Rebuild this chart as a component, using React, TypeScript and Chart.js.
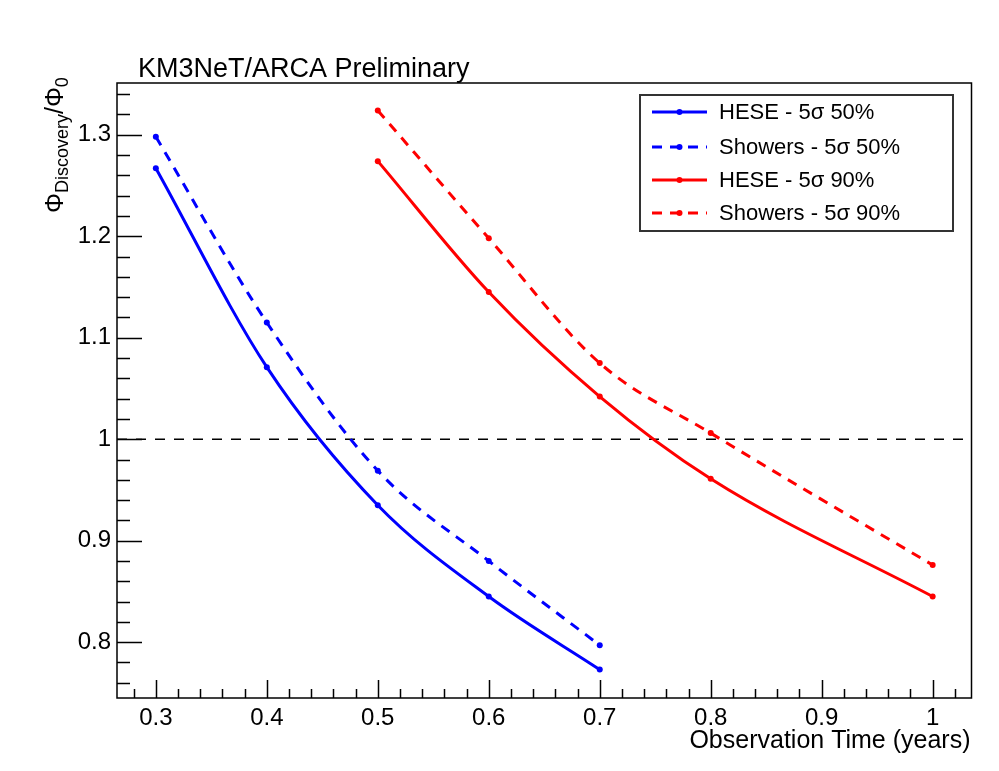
import React, { useEffect, useRef } from "react";
import { Chart, registerables } from "chart.js";

Chart.register(...registerables);

const x50 = [0.3, 0.4, 0.5, 0.6, 0.7];
const hese50 = [1.267, 1.071, 0.935, 0.845, 0.773];
const showers50 = [1.298, 1.115, 0.969, 0.88, 0.797];

const x90 = [0.5, 0.6, 0.7, 0.8, 1.0];
const hese90 = [1.274, 1.145, 1.042, 0.961, 0.845];
const showers90 = [1.324, 1.198, 1.075, 1.006, 0.876];

const refX = [0.265, 1.035];
const refY = [1, 1];

const xTicks = [0.3, 0.4, 0.5, 0.6, 0.7, 0.8, 0.9, 1.0];
const yTicks = [0.8, 0.9, 1.0, 1.1, 1.2, 1.3];

const labels = [
  "HESE - 5\u03c3 50%",
  "Showers - 5\u03c3 50%",
  "HESE - 5\u03c3 90%",
  "Showers - 5\u03c3 90%",
];

const FONT = "'Liberation Sans', Arial, Helvetica, sans-serif";
const BLUE = "#0000ff";
const RED = "#ff0000";
const DASH = [10, 8];

const toPts = (xs: number[], ys: number[]) => xs.map((x, i) => ({ x, y: ys[i] }));
const fmt = (v: number) => (Math.abs(v - 1) < 1e-9 ? "1" : v.toFixed(1));

const rootPlugin = {
  id: "rootStyle",
  beforeDatasetsDraw(chart: any) {
    const { ctx, chartArea: a, scales } = chart;
    const xs = scales.x;
    const ys = scales.y;
    ctx.save();
    ctx.strokeStyle = "#000";
    ctx.lineWidth = 1.5;
    ctx.strokeRect(a.left, a.top, a.right - a.left, a.bottom - a.top);
    ctx.beginPath();
    for (let i = 28; i <= 102; i += 2) {
      const v = i / 100;
      const px = Math.round(xs.getPixelForValue(v)) + 0.5;
      const len = i % 10 === 0 ? 18 : 9;
      ctx.moveTo(px, a.bottom);
      ctx.lineTo(px, a.bottom - len);
    }
    for (let i = 76; i <= 134; i += 2) {
      const v = i / 100;
      const py = Math.round(ys.getPixelForValue(v)) + 0.5;
      const len = i % 10 === 0 ? 25 : 13;
      ctx.moveTo(a.left, py);
      ctx.lineTo(a.left + len, py);
    }
    ctx.stroke();
    ctx.restore();
  },
  afterDraw(chart: any) {
    const { ctx, chartArea: a } = chart;
    ctx.save();
    ctx.fillStyle = "#000";
    // Title
    ctx.font = `27px ${FONT}`;
    ctx.textAlign = "left";
    ctx.textBaseline = "alphabetic";
    ctx.fillText("KM3NeT/ARCA Preliminary", 138, 77);
    // X title
    ctx.font = `25px ${FONT}`;
    ctx.textAlign = "right";
    ctx.fillText("Observation Time (years)", a.right - 1, 748);
    // Y title rotated
    ctx.translate(63, 213);
    ctx.rotate(-Math.PI / 2);
    ctx.textAlign = "left";
    let cx = 0;
    const seg = (t: string, size: number, dy: number) => {
      ctx.font = `${size}px ${FONT}`;
      ctx.fillText(t, cx, dy);
      cx += ctx.measureText(t).width;
    };
    seg("\u03a6", 25, 0);
    seg("Discovery", 18, 5);
    seg("/", 25, 0);
    seg("\u03a6", 25, 0);
    seg("0", 18, 5);
    ctx.restore();

    // Legend
    ctx.save();
    const lx = 640, ly = 95, lw = 313, lh = 136;
    ctx.fillStyle = "#fff";
    ctx.fillRect(lx, ly, lw, lh);
    ctx.strokeStyle = "#333";
    ctx.lineWidth = 2;
    ctx.strokeRect(lx, ly, lw, lh);
    const rows = [112, 147, 180, 213];
    const ds = chart.data.datasets.slice(0, 4);
    ds.forEach((d: any, i: number) => {
      const y = rows[i];
      ctx.strokeStyle = d.borderColor;
      ctx.lineWidth = 3;
      ctx.setLineDash(d.borderDash || []);
      ctx.beginPath();
      ctx.moveTo(652, y);
      ctx.lineTo(707, y);
      ctx.stroke();
      ctx.setLineDash([]);
      ctx.fillStyle = d.borderColor;
      ctx.beginPath();
      ctx.arc(679.5, y, 3, 0, Math.PI * 2);
      ctx.fill();
      ctx.fillStyle = "#000";
      ctx.font = `22px ${FONT}`;
      ctx.textAlign = "left";
      ctx.textBaseline = "middle";
      ctx.fillText(d.label, 719, y + 1);
    });
    ctx.restore();
  },
};

export default function App() {
  const ref = useRef<HTMLCanvasElement>(null);
  useEffect(() => {
    if (!ref.current) return;
    const mk = (label: string, xs: number[], ys: number[], color: string, dash: number[]) => ({
      label,
      data: toPts(xs, ys),
      borderColor: color,
      backgroundColor: color,
      borderWidth: 3,
      borderDash: dash,
      pointRadius: 3,
      pointBorderWidth: 0,
      pointBackgroundColor: color,
      cubicInterpolationMode: "monotone" as const,
      showLine: true,
      fill: false,
    });
    const chart = new Chart(ref.current, {
      type: "line",
      data: {
        datasets: [
          mk(labels[0], x50, hese50, BLUE, []),
          mk(labels[1], x50, showers50, BLUE, DASH),
          mk(labels[2], x90, hese90, RED, []),
          mk(labels[3], x90, showers90, RED, DASH),
          {
            label: "ref",
            data: toPts(refX, refY),
            borderColor: "#000",
            borderWidth: 1.5,
            borderDash: [10, 9],
            pointRadius: 0,
            showLine: true,
            fill: false,
          } as any,
        ],
      },
      options: {
        animation: false,
        responsive: false,
        maintainAspectRatio: false,
        layout: { padding: { left: 0, top: 83, right: 27.5, bottom: 0 } },
        plugins: {
          legend: { display: false },
          tooltip: { enabled: false },
          title: { display: false },
        },
        scales: {
          x: {
            type: "linear",
            min: 0.265,
            max: 1.035,
            afterBuildTicks: (s: any) => {
              s.ticks = xTicks.map((v) => ({ value: v }));
            },
            afterFit: (s: any) => {
              s.height = 771 - 698;
            },
            grid: { display: false, drawTicks: false },
            border: { display: false },
            ticks: {
              autoSkip: false,
              maxRotation: 0,
              padding: 6,
              color: "#000",
              font: { family: FONT, size: 24 },
              callback: (v: any) => fmt(Number(v)),
            },
          },
          y: {
            type: "linear",
            min: 0.745,
            max: 1.351,
            afterBuildTicks: (s: any) => {
              s.ticks = yTicks.map((v) => ({ value: v }));
            },
            afterFit: (s: any) => {
              s.width = 117;
            },
            grid: { display: false, drawTicks: false },
            border: { display: false },
            ticks: {
              autoSkip: false,
              padding: 6,
              color: "#000",
              font: { family: FONT, size: 24 },
              callback: (v: any) => fmt(Number(v)),
            },
          },
        },
      },
      plugins: [rootPlugin],
    });
    return () => chart.destroy();
  }, []);
  return (
    <div style={{ position: "absolute", left: 0, top: 0, width: 999, height: 771, background: "#fff" }}>
      <canvas ref={ref} width={999} height={771} style={{ width: 999, height: 771 }} />
    </div>
  );
}
